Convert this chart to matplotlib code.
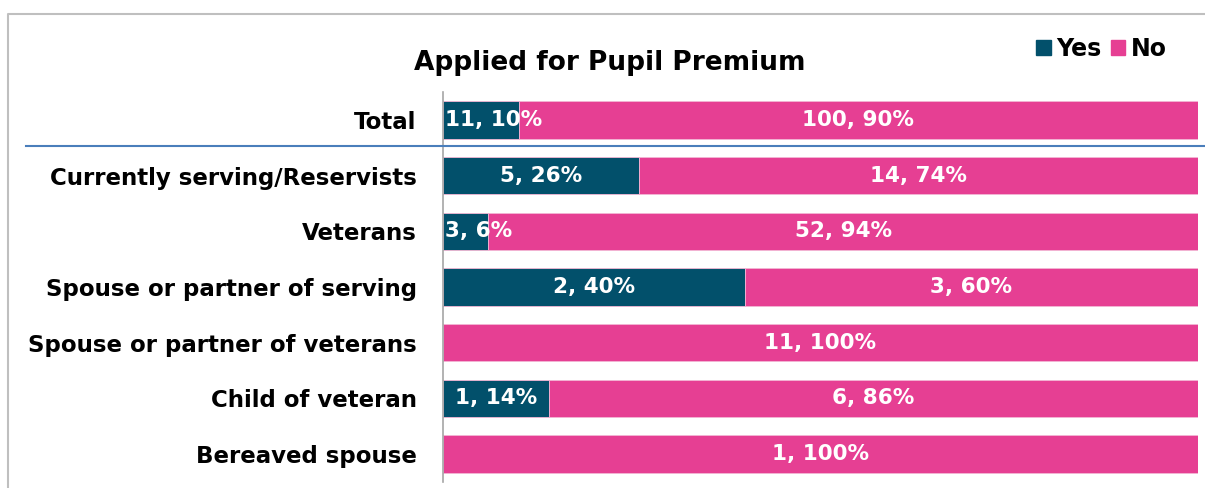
import matplotlib.pyplot as plt
from matplotlib.lines import Line2D
from matplotlib.patches import Patch

categories = ["Total", "Currently serving/Reservists", "Veterans",
              "Spouse or partner of serving", "Spouse or partner of veterans",
              "Child of veteran", "Bereaved spouse"]
yes_counts = [11, 5, 3, 2, 0, 1, 0]
no_counts = [100, 14, 52, 3, 11, 6, 1]
yes_pct = [10, 26, 6, 40, 0, 14, 0]
no_pct = [90, 74, 94, 60, 100, 86, 100]

yes_col = "#02506b"
no_col = "#e63f93"

plt.rcParams["font.family"] = "DejaVu Sans"
plt.rcParams["font.weight"] = "bold"

fig = plt.figure(figsize=(12.05, 4.88), dpi=100)
ax = fig.add_axes([443 / 1205, 6 / 488, 755 / 1205, 390 / 488])

ypos = list(range(len(categories)))

ax.barh(ypos, yes_pct, height=0.67, color=yes_col, edgecolor="#f3b6d4", linewidth=0.6)
ax.barh(ypos, no_pct, left=yes_pct, height=0.67, color=no_col, edgecolor="#f3b6d4", linewidth=0.6)

for i in ypos:
    if yes_counts[i] > 0:
        lbl = f"{yes_counts[i]}, {yes_pct[i]}%"
        if yes_pct[i] < 12:
            # too narrow: keep the label inside the bar starting at the left edge
            ax.text(0.3, i, lbl, ha="left", va="center", color="white",
                    fontsize=15.5, fontweight="bold")
        else:
            ax.text(yes_pct[i] / 2, i, lbl, ha="center", va="center", color="white",
                    fontsize=15.5, fontweight="bold")
    if no_counts[i] > 0:
        ax.text(yes_pct[i] + no_pct[i] / 2, i, f"{no_counts[i]}, {no_pct[i]}%",
                ha="center", va="center", color="white", fontsize=15.5, fontweight="bold")

ax.set_xlim(0, 100)
ax.set_ylim(len(categories) - 0.5, -0.5)
ax.set_yticks(ypos)
ax.set_yticklabels(categories, fontsize=16.5, fontweight="bold")
ax.tick_params(axis="y", length=0, pad=19)
ax.set_xticks([])
for s in ["top", "right", "bottom"]:
    ax.spines[s].set_visible(False)
ax.spines["left"].set_color("#a6a6a6")
ax.spines["left"].set_linewidth(1.2)

fig.text(610 / 1205, 1 - 63 / 488, "Applied for Pupil Premium", ha="center", va="center",
         fontsize=19, fontweight="bold")

handles = [Patch(color=yes_col, label="Yes"), Patch(color=no_col, label="No")]
fig.legend(handles=handles, loc="center right", bbox_to_anchor=(1179 / 1205, 1 - 49 / 488),
           ncol=2, frameon=False, fontsize=17, handlelength=0.6, handleheight=0.6,
           handletextpad=0.25, columnspacing=0.4, borderpad=0)

# separator line below Total row and outer frame
fig.add_artist(Line2D([26 / 1205, 1], [1 - 146 / 488] * 2, color="#4a7ebb", lw=1.5))
fig.add_artist(Line2D([8 / 1205, 8 / 1205, 1], [0, 1 - 14 / 488, 1 - 14 / 488],
                      color="#bfbfbf", lw=1.5))

fig.savefig("out.png", dpi=100)
